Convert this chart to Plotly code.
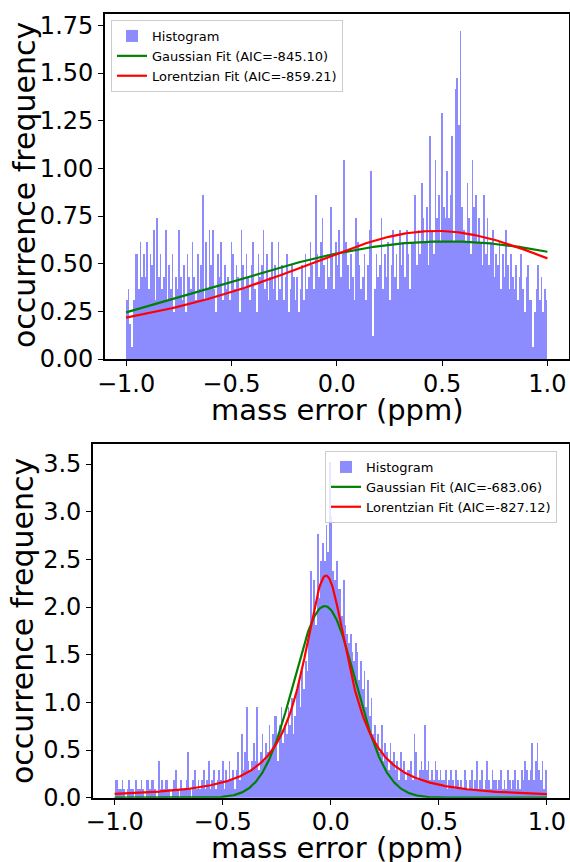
import numpy as np
import plotly.graph_objects as go

W, H = 570, 862

# ---------------- data ----------------
BIN_EDGES_LO, BIN_EDGES_HI, N_BINS = -1.0, 1.0, 250

# top panel histogram: counts per bin (one count = UNIT_TOP in occurrence frequency)
UNIT_TOP = 0.0615
counts_top = [
    5, 6, 3, 1, 5, 9, 9, 6, 10, 7,
    9, 7, 10, 6, 9, 8, 11, 5, 12, 7,
    9, 6, 7, 11, 5, 8, 6, 9, 4, 7,
    6, 11, 7, 5, 8, 4, 9, 7, 6, 10,
    7, 5, 9, 6, 8, 14, 5, 10, 6, 11,
    8, 11, 6, 4, 9, 7, 10, 5, 8, 6,
    7, 5, 10, 9, 6, 8, 7, 4, 11, 8,
    6, 9, 7, 5, 8, 10, 6, 4, 9, 7,
    8, 11, 6, 9, 5, 7, 10, 6, 8, 5,
    10, 6, 8, 5, 7, 9, 4, 6, 8, 7,
    5, 7, 4, 6, 8, 5, 9, 6, 7, 10,
    8, 6, 14, 9, 7, 10, 12, 8, 6, 9,
    7, 13, 9, 6, 10, 8, 11, 7, 9, 17,
    10, 8, 6, 9, 7, 5, 12, 10, 8, 6,
    7, 9, 5, 8, 11, 16, 2, 6, 9, 7,
    8, 12, 6, 9, 7, 10, 5, 8, 11, 7,
    9, 6, 11, 8, 10, 7, 11, 9, 6, 10,
    10, 14, 8, 11, 9, 15, 12, 10, 13, 8,
    19, 11, 9, 17, 12, 14, 10, 21, 13, 12,
    16, 12, 14, 19, 10, 23, 24, 20, 28, 13,
    11, 10, 15, 12, 9, 17, 13, 14, 10, 12,
    10, 8, 14, 9, 12, 8, 10, 11, 7, 9,
    8, 10, 6, 9, 7, 11, 8, 6, 9, 7,
    6, 8, 5, 7, 9, 6, 4, 7, 8, 5,
    5, 1, 4, 6, 8, 5, 7, 4, 6, 5,
]

# bottom panel histogram
UNIT_BOT = 0.0953
counts_bot = [
    2, 2, 1, 1, 2, 1, 0, 1, 2, 1,
    1, 0, 2, 1, 1, 2, 1, 0, 2, 2,
    1, 2, 2, 1, 0, 4, 1, 2, 1, 2,
    2, 1, 0, 1, 2, 3, 1, 0, 2, 1,
    1, 2, 5, 1, 0, 2, 3, 1, 2, 1,
    2, 3, 1, 2, 4, 1, 2, 3, 1, 2,
    3, 2, 4, 1, 3, 2, 4, 2, 3, 1,
    3, 5, 2, 7, 3, 5, 10, 4, 3, 4,
    6, 4, 10, 3, 5, 7, 4, 6, 5, 8,
    5, 7, 9, 9, 4, 8, 10, 6, 8, 7,
    10, 8, 11, 7, 9, 12, 13, 10, 14, 12,
    15, 14, 18, 25, 20, 24, 19, 29, 22, 26,
    28, 26, 30, 27, 37, 31, 25, 24, 26, 23,
    23, 20, 24, 19, 18, 17, 18, 16, 15, 17,
    16, 13, 15, 12, 14, 10, 13, 9, 11, 7,
    8, 6, 7, 5, 8, 4, 6, 5, 3, 6,
    4, 5, 3, 4, 2, 5, 3, 4, 2, 3,
    3, 4, 2, 7, 5, 2, 3, 4, 3, 8,
    3, 4, 2, 3, 2, 4, 3, 2, 3, 2,
    2, 3, 1, 2, 3, 2, 1, 3, 2, 1,
    2, 1, 3, 2, 1, 2, 3, 1, 2, 4,
    1, 2, 3, 1, 2, 4, 2, 1, 3, 2,
    2, 1, 2, 3, 1, 2, 1, 3, 2, 1,
    2, 3, 1, 2, 1, 3, 2, 4, 3, 2,
    3, 6, 2, 4, 6, 3, 2, 4, 1, 3,
]

# fitted model parameters
gauss_top = dict(amp=0.617, mu=0.52, sigma=1.118)
lorentz_top = dict(amp=0.672, x0=0.47, gamma=1.015)
gauss_bot = dict(amp=2.01, mu=-0.028, sigma=0.143)
lorentz_bot = dict(amp=2.33, x0=-0.022, gamma=0.13)

labels_top = ["Histogram", "Gaussian Fit (AIC=-845.10)", "Lorentzian Fit (AIC=-859.21)"]
labels_bot = ["Histogram", "Gaussian Fit (AIC=-683.06)", "Lorentzian Fit (AIC=-827.12)"]

xtick_vals = [-1.0, -0.5, 0.0, 0.5, 1.0]
xtick_text = ["\u22121.0", "\u22120.5", "0.0", "0.5", "1.0"]
ytick_top_vals = [0, 0.25, 0.5, 0.75, 1.0, 1.25, 1.5, 1.75]
ytick_top_text = ["0.00", "0.25", "0.50", "0.75", "1.00", "1.25", "1.50", "1.75"]
ytick_bot_vals = [0, 0.5, 1.0, 1.5, 2.0, 2.5, 3.0, 3.5]
ytick_bot_text = ["0.0", "0.5", "1.0", "1.5", "2.0", "2.5", "3.0", "3.5"]

# ---------------- build ----------------
edges = np.linspace(BIN_EDGES_LO, BIN_EDGES_HI, N_BINS + 1)
centers = 0.5 * (edges[:-1] + edges[1:])
bw = edges[1] - edges[0]
xs = np.linspace(-1, 1, 500)


def gauss(x, amp, mu, sigma):
    return amp * np.exp(-((x - mu) ** 2) / (2 * sigma ** 2))


def lorentz(x, amp, x0, gamma):
    return amp / (1 + ((x - x0) / gamma) ** 2)


BAR_COLOR = "rgba(0,0,255,0.45)"
FONT = "DejaVu Sans"

fig = go.Figure()
for (counts, unit, gp, lp, labels, xa, ya, leg) in [
    (counts_top, UNIT_TOP, gauss_top, lorentz_top, labels_top, "x", "y", "legend"),
    (counts_bot, UNIT_BOT, gauss_bot, lorentz_bot, labels_bot, "x2", "y2", "legend2"),
]:
    fig.add_trace(go.Bar(x=centers, y=np.array(counts) * unit, width=bw,
                         marker=dict(color=BAR_COLOR, line=dict(width=0)),
                         name=labels[0], xaxis=xa, yaxis=ya, legend=leg))
    fig.add_trace(go.Scatter(x=xs, y=gauss(xs, **gp), mode="lines",
                             line=dict(color="#008000", width=2.2),
                             name=labels[1], xaxis=xa, yaxis=ya, legend=leg))
    fig.add_trace(go.Scatter(x=xs, y=lorentz(xs, **lp), mode="lines",
                             line=dict(color="#ff0000", width=2.2),
                             name=labels[2], xaxis=xa, yaxis=ya, legend=leg))

axis_common = dict(showline=True, linecolor="black", linewidth=1.8, mirror=True,
                   ticks="outside", ticklen=5, tickwidth=1.3, tickcolor="black",
                   showgrid=False, zeroline=False, automargin=False,
                   tickfont=dict(family=FONT, size=24, color="black"))
xaxis_extra = dict(ticklabelstandoff=-3)

fig.update_layout(
    template="none",
    width=W, height=H, margin=dict(l=0, r=0, t=0, b=0, pad=0, autoexpand=False),
    paper_bgcolor="white", plot_bgcolor="white",
    bargap=0, barmode="overlay",
    font=dict(family=FONT, color="black"),
    xaxis=dict(domain=[105 / W, 568.5 / W], range=[-1.1, 1.1], anchor="y",
               tickvals=xtick_vals, ticktext=xtick_text, **axis_common, **xaxis_extra),
    yaxis=dict(domain=[1 - 359 / H, 1 - 14 / H], range=[0, 1.81], anchor="x",
               tickvals=ytick_top_vals, ticktext=ytick_top_text, **axis_common),
    xaxis2=dict(domain=[93 / W, 568.5 / W], range=[-1.1, 1.1], anchor="y2",
                tickvals=xtick_vals, ticktext=xtick_text, **axis_common, **xaxis_extra),
    yaxis2=dict(domain=[1 - 797.7 / H, 1 - 444 / H], range=[0, 3.71], anchor="x2",
                tickvals=ytick_bot_vals, ticktext=ytick_bot_text, **axis_common),
    legend=dict(x=111 / W, y=1 - 20 / H, xanchor="left", yanchor="top",
                bgcolor="rgba(255,255,255,0.8)", bordercolor="#cccccc", borderwidth=1,
                font=dict(family=FONT, size=13, color="black"), tracegroupgap=0),
    legend2=dict(x=325 / W, y=1 - 451 / H, xanchor="left", yanchor="top",
                 bgcolor="rgba(255,255,255,0.8)", bordercolor="#cccccc", borderwidth=1,
                 font=dict(family=FONT, size=13, color="black"), tracegroupgap=0),
)

ylab_font = dict(family=FONT, size=30, color="black")
xlab_font = dict(family=FONT, size=29, color="black")
fig.add_annotation(text="occurrence frequency", textangle=-90, xref="paper", yref="paper",
                   x=24 / W, y=1 - 185 / H, xanchor="center", yanchor="middle",
                   showarrow=False, font=ylab_font)
fig.add_annotation(text="occurrence frequency", textangle=-90, xref="paper", yref="paper",
                   x=22 / W, y=1 - 621 / H, xanchor="center", yanchor="middle",
                   showarrow=False, font=ylab_font)
fig.add_annotation(text="mass error (ppm)", xref="paper", yref="paper",
                   x=337 / W, y=1 - 410 / H, xanchor="center", yanchor="middle",
                   showarrow=False, font=xlab_font)
fig.add_annotation(text="mass error (ppm)", xref="paper", yref="paper",
                   x=337 / W, y=1 - 848 / H, xanchor="center", yanchor="middle",
                   showarrow=False, font=xlab_font)

fig.write_html("out.html", post_script="document.body.style.margin='0';document.body.style.overflow='hidden';")
